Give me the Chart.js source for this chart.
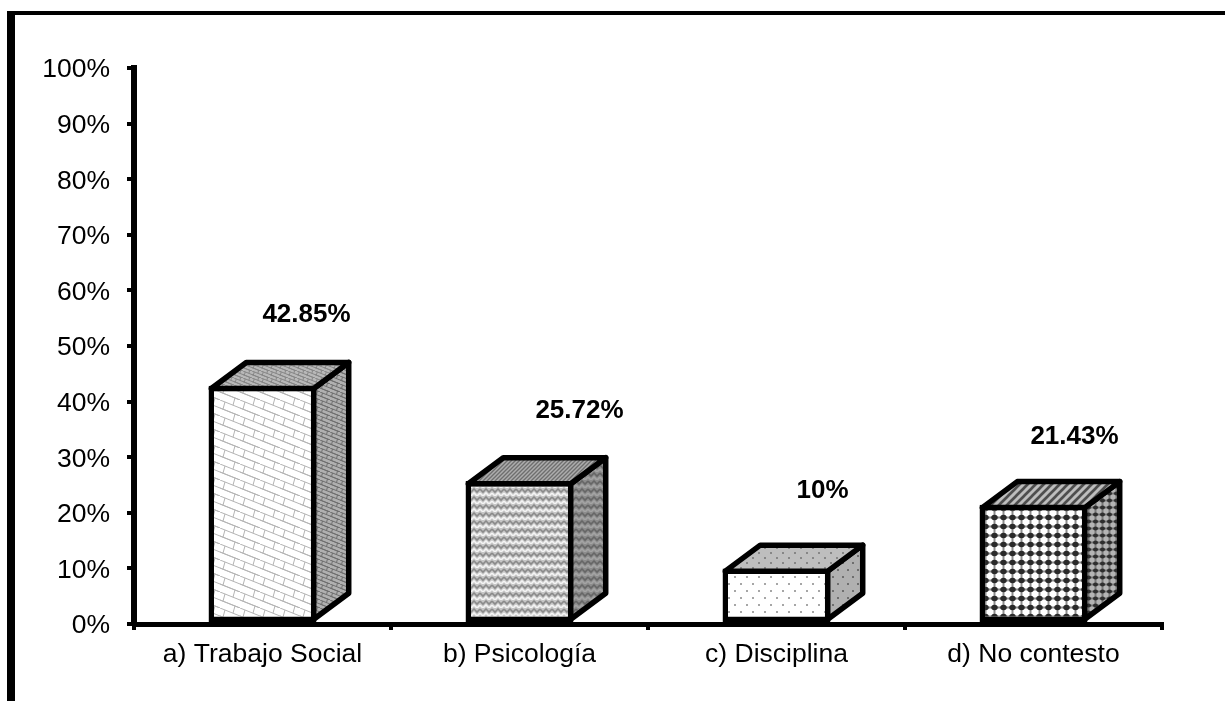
<!DOCTYPE html>
<html>
<head>
<meta charset="utf-8">
<title>Chart</title>
<script src="https://cdn.jsdelivr.net/npm/chart.js@4"></script>
<style>
    body { margin: 0; background: #fff; width: 1225px; height: 701px; overflow: hidden; }
    #frame { position: absolute; left: 7px; top: 11px; right: 0; bottom: 0; border-top: 4px solid #000; border-left: 8px solid #000; }
    #bars { position: absolute; left: 0; top: 0; }
</style>
</head>
<body>
<div id="frame"></div>
<canvas id="bars" width="1225" height="701"></canvas>
<script>
var categories = ["a) Trabajo Social", "b) Psicología", "c) Disciplina", "d) No contesto"];
var bar_values = [42.85, 25.72, 10, 21.43];
var y_ticks = [0, 10, 20, 30, 40, 50, 60, 70, 80, 90, 100];

var FONT = "'Liberation Sans', Arial, sans-serif";
var DEPTH_X = 35;
var DEPTH_Y = 26;
var LINE = 5.5;

// label shift from the bar centre / bar top
var label_dx = [44, 60, 46, 41];
var label_dy = [71, 70, 78, 68];

/*
 small tiles for the office style fill patterns
 */
function makeTile(w, h, bg, draw) {
    var c = document.createElement("canvas");
    c.width = w;
    c.height = h;
    var g = c.getContext("2d");
    g.fillStyle = bg;
    g.fillRect(0, 0, w, h);
    draw(g);
    return document.createElement("canvas").getContext("2d").createPattern(c, "repeat");
}

function brick(bg, fg, w) {
    var h = w * 0.8;
    return makeTile(w, h, bg, function (g) {
        g.strokeStyle = fg;
        g.lineWidth = 1;
        g.beginPath();
        // slanted courses
        g.moveTo(0, 0); g.lineTo(w, h / 2);
        g.moveTo(0, h / 2); g.lineTo(w, h);
        g.moveTo(-w, 0); g.lineTo(w, h);
        // short joints between the courses
        g.moveTo(w * 0.25, h * 0.12); g.lineTo(w * 0.15, h * 0.57);
        g.moveTo(w * 0.75, h * 0.87); g.lineTo(w * 0.65, h * 1.32);
        g.moveTo(w * 0.75, h * -0.13); g.lineTo(w * 0.65, h * 0.32);
        g.stroke();
    });
}

function wave(bg, fg, light) {
    return makeTile(12, 8, bg, function (g) {
        g.lineWidth = 1.6;
        g.strokeStyle = fg;
        g.beginPath();
        g.moveTo(0, 1); g.lineTo(3, 4); g.lineTo(6, 1); g.lineTo(9, 4); g.lineTo(12, 1);
        g.stroke();
        g.strokeStyle = light;
        g.beginPath();
        g.moveTo(0, 5); g.lineTo(3, 8); g.lineTo(6, 5); g.lineTo(9, 8); g.lineTo(12, 5);
        g.stroke();
    });
}

function dots(bg, fg, w, h) {
    return makeTile(w, h, bg, function (g) {
        g.fillStyle = fg;
        g.fillRect(2, 2, 2, 2);
        g.fillRect(2 + w / 2, 2 + h / 2, 2, 2);
    });
}

function grid(bg, fg, line, size) {
    return makeTile(size, size, bg, function (g) {
        g.fillStyle = line;
        g.fillRect(0, size / 2 - 1, size, 2);
        g.fillRect(size / 2 - 1, 0, 2, size);
        g.fillStyle = fg;
        g.beginPath();
        g.ellipse(size / 2, size / 2, size * 0.36, size * 0.3, 0, 0, Math.PI * 2);
        g.fill();
    });
}

function stripes(bg, fg, size) {
    return makeTile(size, size, bg, function (g) {
        g.strokeStyle = fg;
        g.lineWidth = size / 3;
        g.beginPath();
        g.moveTo(0, size); g.lineTo(size, 0);
        g.moveTo(-size / 2, size / 2); g.lineTo(size / 2, -size / 2);
        g.moveTo(size / 2, size * 1.5); g.lineTo(size * 1.5, size / 2);
        g.stroke();
    });
}

var front_fill = [brick("#ffffff", "#b4b4b4", 20), wave("#c6c6c6", "#8a8a8a", "#f4f4f4"), dots("#ffffff", "#a6a6a6", 12, 14), grid("#ffffff", "#2a2a2a", "#8c8c8c", 9)];
var top_fill = [brick("#b8b8b8", "#868686", 9), stripes("#adadad", "#6e6e6e", 4), dots("#bebebe", "#868686", 12, 10), stripes("#bdbdbd", "#4e4e4e", 8)];
var side_fill = [brick("#b0b0b0", "#6e6e6e", 10), wave("#8c8c8c", "#666666", "#a4a4a4"), dots("#b0b0b0", "#6e6e6e", 10, 14), grid("#b4b4b4", "#2e2e2e", "#777777", 7)];

function face(ctx, pts, fill) {
    ctx.beginPath();
    ctx.moveTo(pts[0][0], pts[0][1]);
    for (var i = 1; i < pts.length; i++) {
        ctx.lineTo(pts[i][0], pts[i][1]);
    }
    ctx.closePath();
    ctx.fillStyle = fill;
    ctx.fill();
    ctx.stroke();
}

/*
 top and side faces for the fake 3d look, plus the bold value labels
 */
var box3d = {
    id: "box3d",
    afterDatasetsDraw: function (chart) {
        var ctx = chart.ctx;
        var bars = chart.getDatasetMeta(0).data;
        ctx.save();
        ctx.strokeStyle = "#000";
        ctx.lineWidth = LINE;
        ctx.lineJoin = "round";
        bars.forEach(function (bar, i) {
            var half = bar.width / 2 - LINE / 2;
            var l = bar.x - half;
            var r = bar.x + half;
            var t = bar.y + LINE / 2;
            var b = bar.base - LINE / 2;
            face(ctx, [[r, t], [r + DEPTH_X, t - DEPTH_Y], [r + DEPTH_X, b - DEPTH_Y], [r, b]], side_fill[i]);
            face(ctx, [[l, t], [l + DEPTH_X, t - DEPTH_Y], [r + DEPTH_X, t - DEPTH_Y], [r, t]], top_fill[i]);
        });
        ctx.fillStyle = "#000";
        ctx.font = "bold 26px " + FONT;
        ctx.textAlign = "center";
        ctx.textBaseline = "middle";
        bars.forEach(function (bar, i) {
            ctx.fillText(bar_values[i] + "%", bar.x + label_dx[i], bar.y - label_dy[i]);
        });
        ctx.restore();
    }
};

var myBarChart = new Chart(document.getElementById("bars").getContext("2d"), {
    type: "bar",
    data: {
        labels: categories,
        datasets: [{
            data: bar_values,
            backgroundColor: front_fill,
            borderColor: "#000",
            borderWidth: LINE,
            borderSkipped: false,
            barPercentage: 0.42,
            categoryPercentage: 1
        }]
    },
    plugins: [box3d],
    options: {
        responsive: false,
        animation: false,
        layout: { padding: { top: 68, right: 63, left: 0, bottom: 0 } },
        plugins: { legend: { display: false }, tooltip: { enabled: false } },
        scales: {
            x: {
                afterFit: function (scale) { scale.height = 77; },
                border: { color: "#000", width: 5 },
                grid: { drawOnChartArea: false, color: "#000", lineWidth: 4, tickLength: 6 },
                ticks: { color: "#000", font: { family: FONT, size: 26.5 }, padding: 9, maxRotation: 0 }
            },
            y: {
                min: 0,
                max: 100,
                afterFit: function (scale) { scale.width = 134; },
                afterBuildTicks: function (scale) {
                    scale.ticks = y_ticks.map(function (v) { return { value: v }; });
                },
                border: { color: "#000", width: 6 },
                grid: { drawOnChartArea: false, color: "#000", lineWidth: 4, tickLength: 7 },
                ticks: {
                    color: "#000",
                    font: { family: FONT, size: 26.5 },
                    padding: 17,
                    labelOffset: 2,
                    callback: function (v) { return v + "%"; }
                }
            }
        }
    }
});
</script>
</body>
</html>
